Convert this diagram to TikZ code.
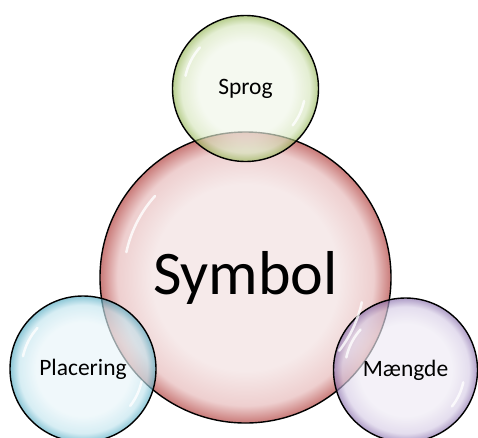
\documentclass[tikz,border=0pt]{standalone}
\usepackage{fontspec}
\setmainfont{Carlito}
\usetikzlibrary{calc}

\definecolor{redin}{HTML}{F6EAEA}
\definecolor{redmid}{HTML}{EECFCF}
\definecolor{redout}{HTML}{C97A78}
\definecolor{greenin}{HTML}{F0F6E8}
\definecolor{greenmid}{HTML}{D6E5BC}
\definecolor{greenout}{HTML}{93B553}
\definecolor{bluein}{HTML}{E8F5F9}
\definecolor{bluemid}{HTML}{C2E4EE}
\definecolor{blueout}{HTML}{4FA9C1}
\definecolor{purplein}{HTML}{EEEAF4}
\definecolor{purplemid}{HTML}{D6CCE5}
\definecolor{purpleout}{HTML}{856AA9}

% glassy bubble shading: pale centre, coloured rim (rim at 25bp)
\newcommand{\bubbleshading}[4]{%
  \pgfdeclareradialshading{#1}{\pgfpoint{0bp}{0bp}}{%
    color(0bp)=(#2); color(16bp)=(#2); color(22bp)=(#3);
    color(25bp)=(#4); color(50bp)=(#4)}}
\bubbleshading{bubblered}{redin}{redmid}{redout}
\bubbleshading{bubblegreen}{greenin}{greenmid}{greenout}
\bubbleshading{bubbleblue}{bluein}{bluemid}{blueout}
\bubbleshading{bubblepurple}{purplein}{purplemid}{purpleout}

\begin{document}
\begin{tikzpicture}[x=1pt, y=-1pt,
  bubble/.style={circle, draw=black, line width=1.4pt, inner sep=0pt, text=black},
  small/.style={bubble, minimum size=146pt, font=\fontsize{23.5}{26}\selectfont,
    fill opacity=0.66, draw opacity=1, text opacity=1},
  glint/.style={white, line width=2.5pt, line cap=round, opacity=0.8}]
  \useasboundingbox (0,0) rectangle (478,437);
  % centre bubble
  \node[bubble, minimum size=291pt, shading=bubblered,
    font=\fontsize{62}{70}\selectfont] (symbol) at (245.5,277.5) {Symbol};
  % outer bubbles
  \node[small, shading=bubblegreen] (sprog) at (245.5,88.5) {Sprog};
  \node[small, shading=bubbleblue] (placering) at (83,369) {Placering};
  \node[small, shading=bubblepurple, minimum size=144pt] (maengde) at (405.5,370) {Mængde};
  % highlights
  \foreach \n/\r in {symbol/145, sprog/73, placering/73, maengde/72} {
    \draw[glint] (\n.center) ++(192:0.84*\r) arc (192:222:0.84*\r);
    \draw[glint] (\n.center) ++(12:0.82*\r) arc (12:38:0.82*\r);
  }
\end{tikzpicture}
\end{document}
